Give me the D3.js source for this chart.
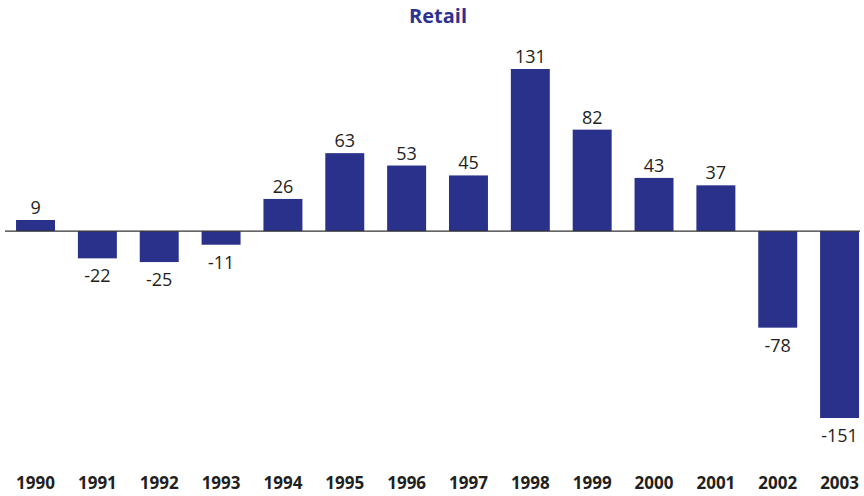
<!DOCTYPE html>
<html>
<head>
<meta charset="utf-8">
<script src="https://cdn.jsdelivr.net/npm/d3@7"></script>
<style>
  body { margin: 0; background: #fff; }
  text { font-family: "Open Sans", "Noto Sans", sans-serif; }
</style>
</head>
<body>
<div id="canvas"></div>
<script>
const w = 864;
const h = 496;

const years = ["1990", "1991", "1992", "1993", "1994", "1995", "1996", "1997", "1998", "1999", "2000", "2001", "2002", "2003"];
const values = [9, -22, -25, -11, 26, 63, 53, 45, 131, 82, 43, 37, -78, -151];
const title = "Retail";

const barColor = "#29318b";

let svg = d3.select("#canvas").append("svg").attr("width", w).attr("height", h);

let x = d3.scaleBand().domain(years).range([4.6, 4.6 + 14 * 61.85]).paddingInner(0.37).paddingOuter(0.185);
let y = d3.scaleLinear().domain([-151, 131]).range([418, 69]);

svg.append("text")
  .attr("x", 438).attr("y", 23)
  .attr("text-anchor", "middle")
  .attr("font-size", 20).attr("font-weight", "bold")
  .attr("fill", "#2e3192")
  .text(title);

let data = years.map((yr, i) => ({year: yr, val: values[i]}));

svg.selectAll("rect.bar").data(data)
  .enter().append("rect").attr("class", "bar")
  .attr("x", (d) => x(d.year))
  .attr("width", x.bandwidth())
  .attr("y", (d) => y(Math.max(0, d.val)))
  .attr("height", (d) => Math.abs(y(d.val) - y(0)))
  .attr("fill", barColor);

svg.append("line")
  .attr("x1", 5).attr("x2", 860)
  .attr("y1", y(0)).attr("y2", y(0))
  .attr("stroke", "#333").attr("stroke-width", 1.2);

svg.selectAll("text.val").data(data)
  .enter().append("text").attr("class", "val")
  .attr("x", (d) => x(d.year) + x.bandwidth() / 2)
  .attr("y", (d) => d.val >= 0 ? y(d.val) - 6 : y(d.val) + 24)
  .attr("text-anchor", "middle")
  .attr("font-size", 18)
  .attr("fill", "#231f20")
  .text((d) => d.val);

// year labels along the bottom
svg.append("g")
  .attr("transform", "translate(0, 489)")
  .call(d3.axisBottom(x).tickSize(0).tickPadding(0))
  .call((g) => g.select(".domain").remove())
  .selectAll("text")
  .attr("dy", 0)
  .attr("font-size", 17).attr("font-weight", "bold")
  .attr("font-family", "\"Open Sans\", \"Noto Sans\", sans-serif")
  .attr("fill", "#231f20");
</script>
</body>
</html>
